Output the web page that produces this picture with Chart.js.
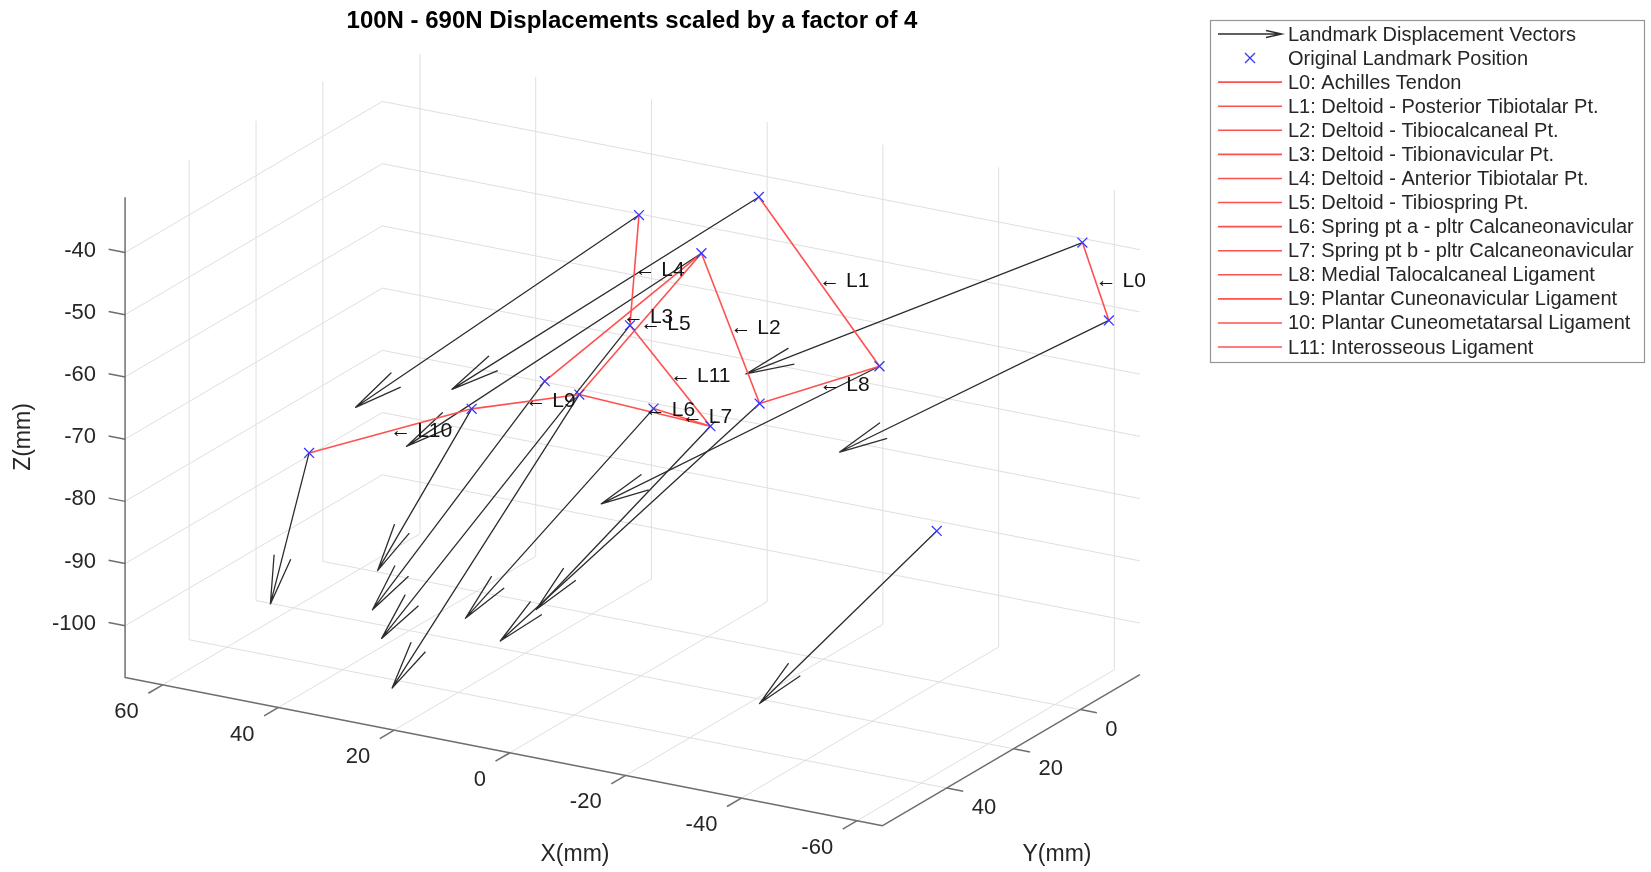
<!DOCTYPE html>
<html>
<head>
<meta charset="utf-8">
<script src="https://cdn.jsdelivr.net/npm/chart.js@4.4.1/dist/chart.umd.min.js"></script>
<style>html,body{margin:0;padding:0;background:#fff;overflow:hidden}canvas{display:block}</style>
</head>
<body>
<canvas id="c" width="1651" height="872"></canvas>
<script>
// ================= DATA =================
const TITLE = '100N - 690N Displacements scaled by a factor of 4';
const SCALE_FACTOR = 4;            // displacement vectors drawn x4

// original landmark positions (mm)
const LANDMARK_X = [-58.4, -62.4, -15.2, -39.5, -7.0, -23.4, 9.1, 6.1, -1.0, 1.4, -20.1, -12.0, 17.7, 42.9, -56.9];
const LANDMARK_Y = [-11.0, -12.0, 11.0, 17.0, 14.0, 25.0, 33.0, 10.0, 25.0, 36.0, 34.0, 37.0, 40.0, 45.0, 30.0];
const LANDMARK_Z = [-37.8, -49.9, -31.4, -52.3, -41.0, -58.7, -58.5, -38.5, -50.2, -58.3, -60.1, -57.8, -62.3, -72.4, -71.5];

// landmark displacements 100N -> 690N (mm, unscaled)
const DISP_X = [13.50, 10.36, 11.47, 10.46, 11.07, 9.24, 6.29, 10.74, 8.65, 6.24, 6.20, 6.51, 3.14, -0.35, 6.27];
const DISP_Y = [1.8, 2.2, 3.1, 2.7, 2.9, 3.4, 2.0, 2.6, 3.6, 3.2, 2.3, 2.8, 1.6, 3.5, 2.4];
const DISP_Z = [-7.17, -6.48, -8.84, -6.58, -8.86, -10.15, -9.70, -8.86, -13.02, -11.92, -7.77, -8.73, -6.57, -4.90, -7.32];

// ligaments: landmark index pairs
const LIG_NAMES = ['L0', 'L1', 'L2', 'L3', 'L4', 'L5', 'L6', 'L7', 'L8', 'L9', 'L10', 'L11'];
const LIG_START = [0, 2, 4, 4, 7, 4, 9, 11, 3, 12, 13, 8];
const LIG_END   = [1, 3, 5, 6, 8, 9, 10, 10, 5, 9, 12, 10];

const LEGEND_LABELS = [
  'Landmark Displacement Vectors',
  'Original Landmark Position',
  'L0: Achilles Tendon',
  'L1: Deltoid - Posterior Tibiotalar Pt.',
  'L2: Deltoid - Tibiocalcaneal Pt.',
  'L3: Deltoid - Tibionavicular Pt.',
  'L4: Deltoid - Anterior Tibiotalar Pt.',
  'L5: Deltoid - Tibiospring Pt.',
  'L6: Spring pt a - pltr Calcaneonavicular',
  'L7: Spring pt b - pltr Calcaneonavicular',
  'L8: Medial Talocalcaneal Ligament',
  'L9: Plantar Cuneonavicular Ligament',
  '10: Plantar Cuneometatarsal Ligament',
  'L11: Interosseous Ligament'
];

// axes
const X_TICKS = [-60, -40, -20, 0, 20, 40, 60];
const Y_TICKS = [0, 20, 40];
const Z_TICKS = [-100, -90, -80, -70, -60, -50, -40];
const X_LIM = [-64.4, 66.5];
const Y_LIM = [-17.8, 59.2];
const Z_LIM = [-108.3, -31.2];
const X_LABEL = 'X(mm)', Y_LABEL = 'Y(mm)', Z_LABEL = 'Z(mm)';

// ================= VIEW / STYLE =================
const AZ = -150, EL = 20;                 // camera (degrees)
const W = 1651, H = 872;
const PX_PER_UNIT = 6.75;
const ORIGIN_PX = [706.5, -46.4];         // pixel of data origin
const U_MIN = -ORIGIN_PX[0] / PX_PER_UNIT, U_MAX = (W - ORIGIN_PX[0]) / PX_PER_UNIT;
const V_MAX = ORIGIN_PX[1] / PX_PER_UNIT, V_MIN = (ORIGIN_PX[1] - H) / PX_PER_UNIT;

const ca = Math.cos(AZ * Math.PI / 180), sa = Math.sin(AZ * Math.PI / 180);
const ce = Math.cos(EL * Math.PI / 180), se = Math.sin(EL * Math.PI / 180);
function proj(x, y, z) {
  return { x: x * ca + y * sa, y: -x * sa * se + y * ca * se + z * ce };
}

const FONT = '"Liberation Sans", Arial, Helvetica, sans-serif';
const GRID_COLOR = 'rgb(223,223,223)';
const AXIS_COLOR = 'rgb(110,110,110)';
const TEXT_COLOR = 'rgb(38,38,38)';
const ARROW_COLOR = 'rgb(45,45,45)';
const LIG_COLOR = 'rgb(255,80,80)';
const MARK_COLOR = 'rgb(55,55,255)';

const datasets = [];
function seg(points, color, width, order) {
  datasets.push({
    data: points, showLine: true, borderColor: color, borderWidth: width,
    pointRadius: 0, pointHoverRadius: 0, fill: false, tension: 0, order: order,
    borderJoinStyle: 'round', borderCapStyle: 'butt'
  });
}

const [X0, X1] = X_LIM, [Y0, Y1] = Y_LIM, [Z0, Z1] = Z_LIM;

// grid on back walls and floor
for (const y of Y_TICKS) seg([proj(X1, y, Z0), proj(X1, y, Z1)], GRID_COLOR, 1, 10);
for (const x of X_TICKS) seg([proj(x, Y0, Z0), proj(x, Y0, Z1)], GRID_COLOR, 1, 10);
for (const z of Z_TICKS) seg([proj(X1, Y1, z), proj(X1, Y0, z), proj(X0, Y0, z)], GRID_COLOR, 1, 10);
for (const x of X_TICKS) seg([proj(x, Y0, Z0), proj(x, Y1, Z0)], GRID_COLOR, 1, 10);
for (const y of Y_TICKS) seg([proj(X0, y, Z0), proj(X1, y, Z0)], GRID_COLOR, 1, 10);

// axis lines
seg([proj(X1, Y1, Z1), proj(X1, Y1, Z0), proj(X0, Y1, Z0), proj(X0, Y0, Z0)], AXIS_COLOR, 1.5, 9);
// tick marks
const TICK_MM_X = 4.3, TICK_MM_XY = 2.85;
for (const z of Z_TICKS) seg([proj(X1, Y1, z), proj(X1 + TICK_MM_XY, Y1, z)], AXIS_COLOR, 1.5, 9);
for (const x of X_TICKS) seg([proj(x, Y1, Z0), proj(x, Y1 + TICK_MM_X, Z0)], AXIS_COLOR, 1.5, 9);
for (const y of Y_TICKS) seg([proj(X0, y, Z0), proj(X0 - TICK_MM_XY, y, Z0)], AXIS_COLOR, 1.5, 9);

// displacement arrows (scaled)
const HEAD_LEN = 50 / PX_PER_UNIT, HEAD_ANG = 10 * Math.PI / 180;
for (let i = 0; i < LANDMARK_X.length; i++) {
  const s = proj(LANDMARK_X[i], LANDMARK_Y[i], LANDMARK_Z[i]);
  const t = proj(LANDMARK_X[i] + SCALE_FACTOR * DISP_X[i],
                 LANDMARK_Y[i] + SCALE_FACTOR * DISP_Y[i],
                 LANDMARK_Z[i] + SCALE_FACTOR * DISP_Z[i]);
  const dx = s.x - t.x, dy = s.y - t.y, L = Math.hypot(dx, dy);
  const ux = dx / L, uy = dy / L;
  const h1 = { x: t.x + HEAD_LEN * (ux * Math.cos(HEAD_ANG) - uy * Math.sin(HEAD_ANG)),
               y: t.y + HEAD_LEN * (ux * Math.sin(HEAD_ANG) + uy * Math.cos(HEAD_ANG)) };
  const h2 = { x: t.x + HEAD_LEN * (ux * Math.cos(-HEAD_ANG) - uy * Math.sin(-HEAD_ANG)),
               y: t.y + HEAD_LEN * (ux * Math.sin(-HEAD_ANG) + uy * Math.cos(-HEAD_ANG)) };
  seg([s, t, h1, t, h2], ARROW_COLOR, 1.3, 5);
}

// ligament lines
for (let k = 0; k < LIG_NAMES.length; k++) {
  const a = LIG_START[k], b = LIG_END[k];
  seg([proj(LANDMARK_X[a], LANDMARK_Y[a], LANDMARK_Z[a]),
       proj(LANDMARK_X[b], LANDMARK_Y[b], LANDMARK_Z[b])], LIG_COLOR, 1.6, 3);
}

// landmark markers
datasets.push({
  data: LANDMARK_X.map((x, i) => proj(x, LANDMARK_Y[i], LANDMARK_Z[i])),
  showLine: false, pointStyle: 'crossRot', pointRadius: 7, pointHoverRadius: 7,
  borderColor: MARK_COLOR, backgroundColor: MARK_COLOR, pointBorderWidth: 1.3, order: 1
});

// ================= TEXT / LEGEND PLUGIN =================
const textPlugin = {
  id: 'texts',
  beforeDraw(chart) {
    const c = chart.ctx; c.save(); c.fillStyle = '#fff'; c.fillRect(0, 0, W, H); c.restore();
  },
  afterDatasetsDraw(chart) {
    const c = chart.ctx, xs = chart.scales.x, ys = chart.scales.y;
    const px = p => [xs.getPixelForValue(p.x), ys.getPixelForValue(p.y)];
    c.save();
    c.fillStyle = TEXT_COLOR;
    c.textBaseline = 'middle';

    // data labels
    c.font = '21px ' + FONT; c.textAlign = 'left'; c.fillStyle = 'rgb(20,20,20)';
    for (let k = 0; k < LIG_NAMES.length; k++) {
      const a = LIG_START[k], b = LIG_END[k];
      const m = proj((LANDMARK_X[a] + LANDMARK_X[b]) / 2, (LANDMARK_Y[a] + LANDMARK_Y[b]) / 2,
                     (LANDMARK_Z[a] + LANDMARK_Z[b]) / 2);
      const [x, y] = px(m);
      c.fillText('\u2190 ' + LIG_NAMES[k], x, y);
    }

    c.fillStyle = TEXT_COLOR;
    // tick labels
    c.font = '22px ' + FONT;
    c.textAlign = 'right';
    for (const z of Z_TICKS) { const [x, y] = px(proj(X1, Y1, z)); c.fillText(String(z), x - 29, y - 2); }
    for (const xv of X_TICKS) { const [x, y] = px(proj(xv, Y1, Z0)); c.fillText(String(xv), x - 24, y + 27); }
    c.textAlign = 'left';
    for (const yv of Y_TICKS) { const [x, y] = px(proj(X0, yv, Z0)); c.fillText(String(yv), x + 25, y + 20); }

    // axis labels
    c.font = '23px ' + FONT; c.textAlign = 'center';
    c.fillText(X_LABEL, 575, 855);
    c.fillText(Y_LABEL, 1057, 855);
    c.save(); c.translate(24, 437); c.rotate(-Math.PI / 2); c.fillText(Z_LABEL, 0, 0); c.restore();

    // title
    c.font = 'bold 24px ' + FONT; c.fillStyle = '#000';
    c.fillText(TITLE, 632, 21);

    // legend
    const LX = 1210.5, LY = 20.5, LW = 434, LH = 342, ROW0 = 34, ROWH = 24.08;
    c.fillStyle = '#fff'; c.fillRect(LX, LY, LW, LH);
    c.strokeStyle = 'rgb(150,150,150)'; c.lineWidth = 1.2; c.strokeRect(LX, LY, LW, LH);
    c.font = '20px ' + FONT; c.textAlign = 'left'; c.fillStyle = TEXT_COLOR;
    for (let i = 0; i < LEGEND_LABELS.length; i++) {
      const y = ROW0 + i * ROWH;
      if (i === 0) {
        c.strokeStyle = ARROW_COLOR; c.lineWidth = 1.3;
        c.beginPath(); c.moveTo(1218, y); c.lineTo(1282, y);
        c.moveTo(1266, y - 3.5); c.lineTo(1282, y); c.lineTo(1266, y + 3.5); c.stroke();
      } else if (i === 1) {
        c.strokeStyle = MARK_COLOR; c.lineWidth = 1.3;
        c.beginPath(); c.moveTo(1245, y - 5); c.lineTo(1255, y + 5);
        c.moveTo(1245, y + 5); c.lineTo(1255, y - 5); c.stroke();
      } else {
        c.strokeStyle = LIG_COLOR; c.lineWidth = 1.6;
        c.beginPath(); c.moveTo(1218, y); c.lineTo(1282, y); c.stroke();
      }
      c.fillText(LEGEND_LABELS[i], 1288, y + 1);
    }
    c.restore();
  }
};

new Chart(document.getElementById('c'), {
  type: 'scatter',
  data: { datasets },
  options: {
    responsive: false, animation: false, devicePixelRatio: 1, events: [],
    layout: { padding: 0 },
    plugins: { legend: { display: false }, tooltip: { enabled: false }, title: { display: false } },
    scales: {
      x: { type: 'linear', min: U_MIN, max: U_MAX, display: false },
      y: { type: 'linear', min: V_MIN, max: V_MAX, display: false }
    }
  },
  plugins: [textPlugin]
});
</script>
</body>
</html>
